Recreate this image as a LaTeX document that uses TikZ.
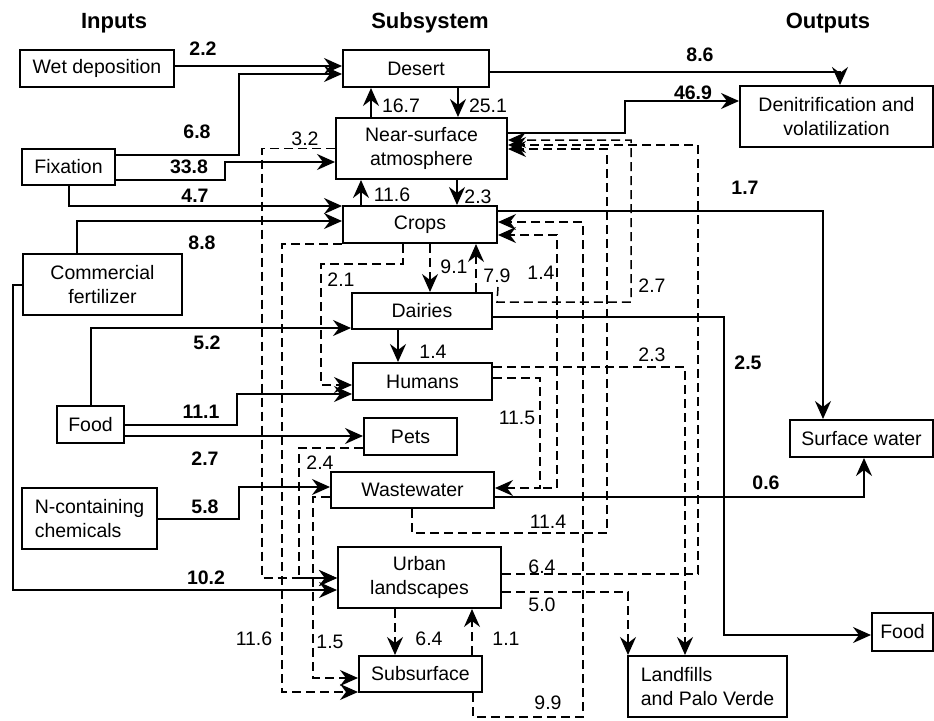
\documentclass[tikz,border=0pt]{standalone}
\usepackage{fontspec}
\setmainfont{Liberation Sans}
\usetikzlibrary{arrows.meta}
\begin{document}
\begin{tikzpicture}[x=1pt,y=-1pt]
\tikzstyle{box} = [draw, line width=2, inner sep=0, align=center,
                   font=\fontsize{19.5}{24}\selectfont]
\tikzstyle{num} = [inner sep=0, font=\fontsize{19.5}{24}\selectfont]
\tikzstyle{bnum} = [inner sep=0, font=\fontsize{19.5}{24}\selectfont\bfseries]
\tikzstyle{head} = [inner sep=0, anchor=base, font=\fontsize{22}{26}\selectfont\bfseries]
\tikzstyle{solidflow} = [line width=2, -{Stealth[length=18pt,width=16pt,inset=6pt]}]
\tikzstyle{dashflow} = [solidflow, line width=1.5, dash pattern=on 9pt off 5pt]
\useasboundingbox (0,0) rectangle (934,720);
% column headers
\node [head] (hin) at (114,28) {Inputs};
\node [head] (hsub) at (430,28) {Subsystem};
\node [head] (hout) at (828,28) {Outputs};
% inputs
\node [box, minimum width=154, minimum height=37] (wet) at (97,68.5) {Wet deposition};
\node [box, minimum width=93, minimum height=36] (fix) at (68.5,167) {Fixation};
\node [box, minimum width=159, minimum height=61] (fert) at (102.5,284.5) {Commercial\\fertilizer};
\node [box, minimum width=67, minimum height=37] (foodin) at (90.5,424.5) {Food};
\node [box, minimum width=135, minimum height=61, align=left] (chem) at (89.5,518.5) {N-containing\\chemicals};
% subsystem
\node [box, minimum width=146, minimum height=37] (des) at (416,68.5) {Desert};
\node [box, minimum width=171, minimum height=61] (atm) at (421.5,148.5) {Near-surface\\atmosphere};
\node [box, minimum width=154, minimum height=37] (crops) at (420,224.5) {Crops};
\node [box, minimum width=140, minimum height=36] (dai) at (422,311) {Dairies};
\node [box, minimum width=139, minimum height=37] (hum) at (422.5,381.5) {Humans};
\node [box, minimum width=93, minimum height=37] (pets) at (410.5,436.5) {Pets};
\node [box, minimum width=163, minimum height=36] (waste) at (412.5,490) {Wastewater};
\node [box, minimum width=163, minimum height=61] (urban) at (419.5,577.5) {Urban\\landscapes};
\node [box, minimum width=123, minimum height=36] (sub) at (420.5,674) {Subsurface};
% outputs
\node [box, minimum width=193, minimum height=61] (denit) at (836.5,116.5) {Denitrification and\\volatilization};
\node [box, minimum width=143, minimum height=37] (surf) at (861.5,438.5) {Surface water};
\node [box, minimum width=61, minimum height=38] (foodout) at (902.5,632) {Food};
\node [box, minimum width=159, minimum height=61, align=left] (land) at (707.5,686.5) {Landfills\\and Palo Verde};
% input flows
\draw [solidflow] (wet.east |- 0,66) -- (des.west |- 0,66);
\draw [solidflow] (fix.east |- 0,155) -| (239,74) -- (des.west |- 0,74);
\draw [solidflow] (fix.east |- 0,180) -| (225,162) -- (atm.west |- 0,162);
\draw [solidflow] (fix.south) |- (crops.west |- 0,206);
\draw [solidflow] (fert.north -| 77,0) |- (crops.west |- 0,221);
\draw [solidflow] (fert.west) -| (13,590) -- (urban.west |- 0,590);
\draw [solidflow] (foodin.north) |- (dai.west |- 0,328);
\draw [solidflow] (foodin.east) -| (237,394) -- (hum.west |- 0,394);
\draw [solidflow] (foodin.east |- 0,436) -- (pets.west |- 0,436);
\draw [solidflow] (chem.east) -| (239,487) -- (waste.west |- 0,487);
\node [bnum] (n1) at (203,49) {2.2};
\node [bnum] (n2) at (197,132) {6.8};
\node [bnum] (n3) at (189,167) {33.8};
\node [bnum] (n4) at (195,196) {4.7};
\node [bnum] (n5) at (202,243) {8.8};
\node [bnum] (n6) at (207,343) {5.2};
\node [bnum] (n7) at (201,412) {11.1};
\node [bnum] (n8) at (205,459) {2.7};
\node [bnum] (n9) at (205,507) {5.8};
\node [bnum] (n10) at (206,578) {10.2};
% output flows
\draw [solidflow] (des.east |- 0,72) -| (denit.north -| 840,0);
\draw [solidflow] (atm.east |- 0,133) -| (625,101) -- (denit.west |- 0,101);
\draw [solidflow] (crops.east |- 0,211) -| (surf.north -| 823,0);
\draw [solidflow] (dai.east |- 0,317) -| (724,635) -- (foodout.west |- 0,635);
\draw [solidflow] (waste.east |- 0,497) -| (surf.south -| 864,0);
\node [bnum] (n11) at (700,55) {8.6};
\node [bnum] (n12) at (693,93) {46.9};
\node [bnum] (n13) at (745,188) {1.7};
\node [bnum] (n14) at (748,363) {2.5};
\node [bnum] (n15) at (766,483) {0.6};
% internal solid flows
\draw [solidflow] (atm.north -| 371,0) -- (des.south -| 371,0);
\draw [solidflow] (des.south -| 458,0) -- (atm.north -| 458,0);
\draw [solidflow] (crops.north -| 361,0) -- (atm.south -| 361,0);
\draw [solidflow] (atm.south -| 457,0) -- (crops.north -| 457,0);
\draw [solidflow] (dai.south -| 398,0) -- (hum.north -| 398,0);
\node [num] (m1) at (401,106) {16.7};
\node [num] (m2) at (488,106) {25.1};
\node [num] (m3) at (392,195) {11.6};
\node [num] (m4) at (478,197) {2.3};
\node [num] (m5) at (433,352) {1.4};
% internal dashed flows
\draw [dashflow] (atm.west) -| (262,578) -- (urban.west |- 0,578);
\draw [dashflow] (crops.south -| 403,0) -- (403,264) -| (321,385) -- (hum.west |- 0,385);
\draw [dashflow] (crops.south -| 430,0) -- (dai.north -| 430,0);
\draw [dashflow] (dai.north -| 476,0) -- (crops.south -| 476,0);
\draw [dashflow] (dai.north east) ++(5,-5) -- (497,302) -| (631,140) -- (atm.east |- 0,140);
\draw [dashflow] (hum.east |- 0,367) -| (557,235) -- (crops.east |- 0,235);
\draw [dashflow] (hum.east |- 0,367) -| (land.north -| 685,0);
\draw [dashflow] (hum.east |- 0,378) -| (540,488) -- (waste.east |- 0,488);
\draw [dashflow, -] (557,367) |- (540,488);
\draw [dashflow] (waste.south -| 412,0) |- (607,533) |- (atm.east |- 0,149);
\draw [dashflow] (sub.south -| 473,0) |- (583,717) |- (crops.east |- 0,222);
\draw [dashflow] (urban.east |- 0,574) -| (698,145) -- (atm.east |- 0,145);
\draw [dashflow] (urban.east |- 0,592) -| (land.north -| 628,0);
\draw [dashflow] (pets.west |- 0,448) -| (299,578) -- (urban.west |- 0,578);
\draw [dashflow] (crops.south west) -| (282,692) -- (sub.west |- 0,692);
\draw [dashflow] (waste.west |- 0,497) -| (313,678) -- (sub.west |- 0,678);
\draw [dashflow] (urban.south -| 395,0) -- (sub.north -| 395,0);
\draw [dashflow] (sub.north -| 472,0) -- (urban.south -| 472,0);
\node [num] (d1) at (305,139) {3.2};
\node [num] (d2) at (341,280) {2.1};
\node [num] (d3) at (454,267) {9.1};
\node [num] (d4) at (497,276) {7.9};
\node [num] (d5) at (541,273) {1.4};
\node [num] (d6) at (652,286) {2.7};
\node [num] (d7) at (652,355) {2.3};
\node [num] (d8) at (517,418) {11.5};
\node [num] (d9) at (320,463) {2.4};
\node [num] (d10) at (548,522) {11.4};
\node [num] (d11) at (542,567) {6.4};
\node [num] (d12) at (542,605) {5.0};
\node [num] (d13) at (548,703) {9.9};
\node [num] (d14) at (254,639) {11.6};
\node [num] (d15) at (330,642) {1.5};
\node [num] (d16) at (429,639) {6.4};
\node [num] (d17) at (506,639) {1.1};
\end{tikzpicture}
\end{document}
